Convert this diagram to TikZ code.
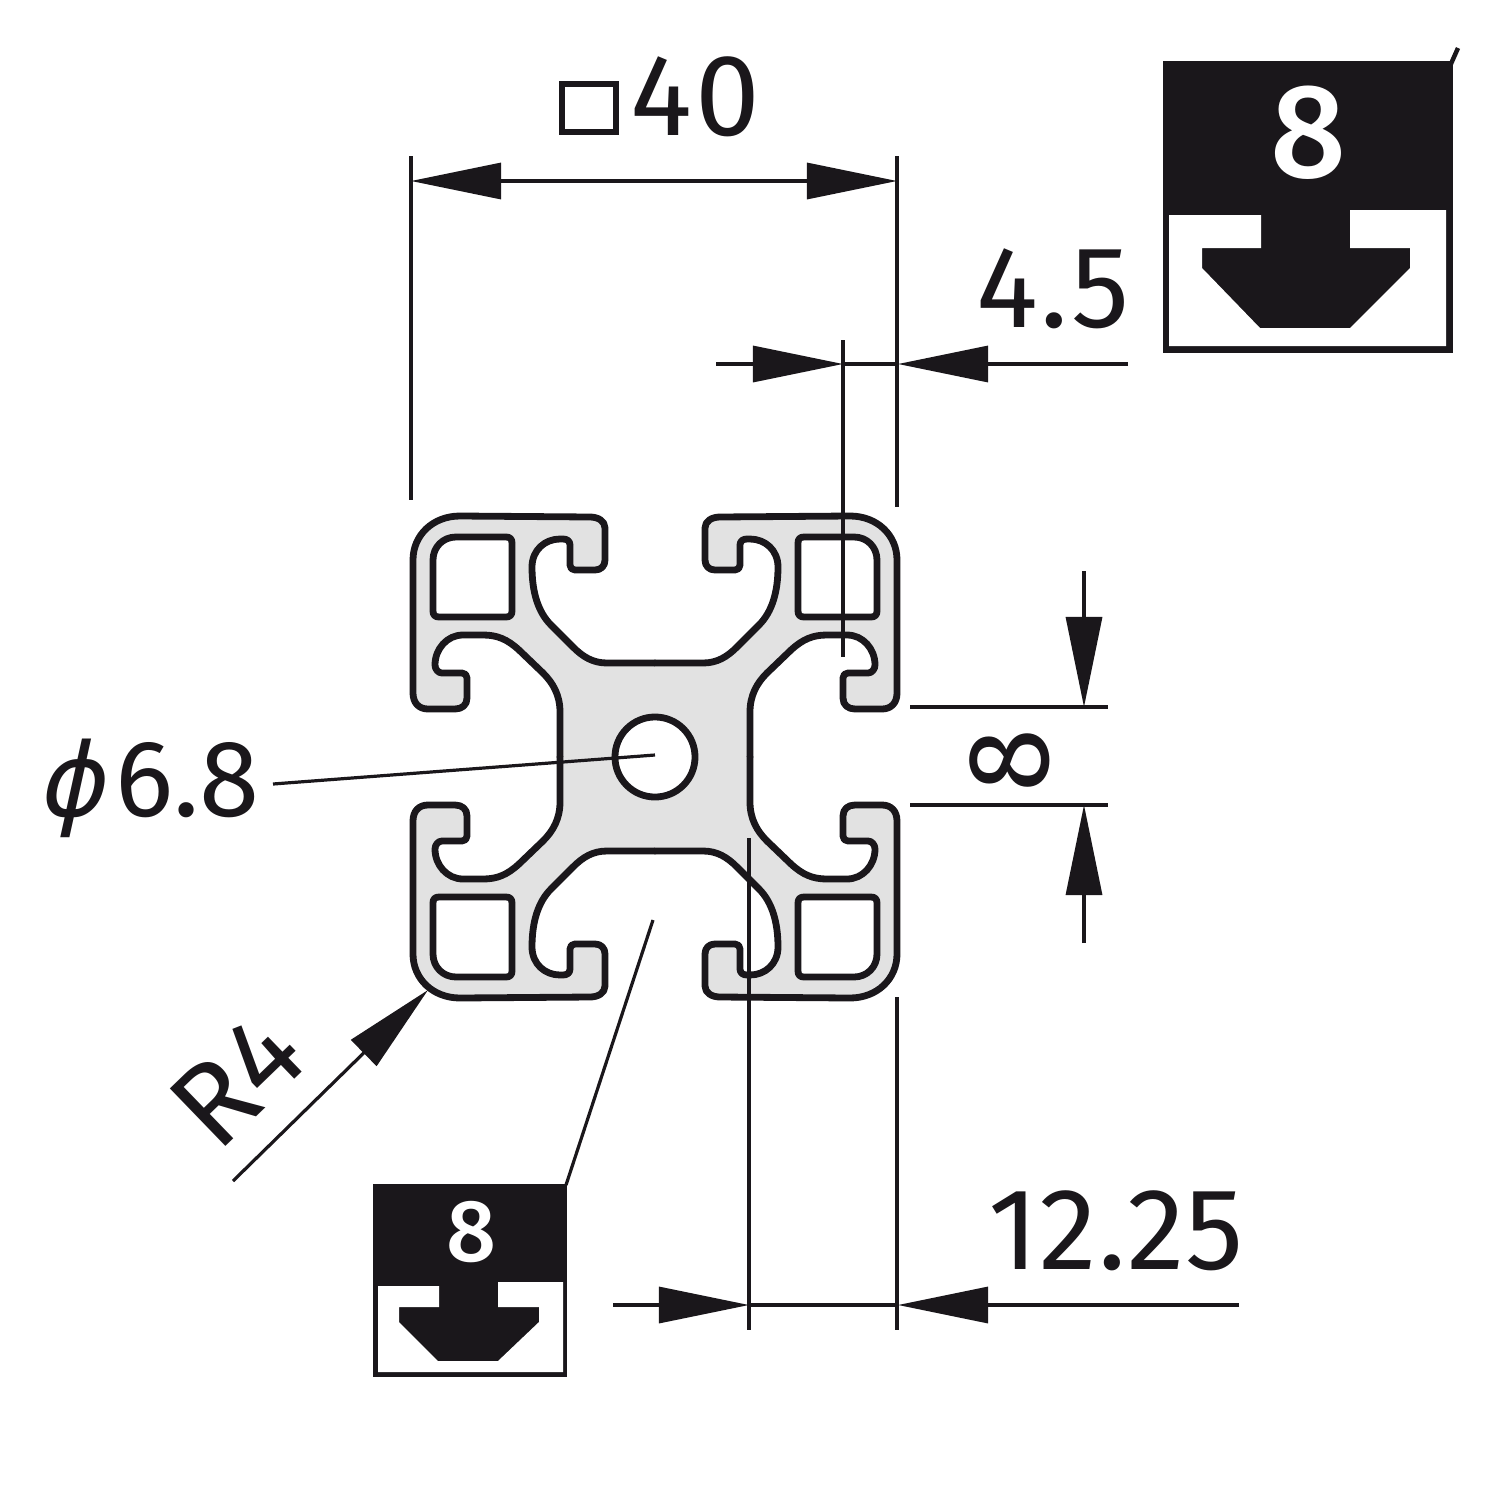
\documentclass[tikz,border=0pt]{standalone}
\usepackage{fontspec}
\setmainfont{Fira Sans}
\newfontfamily\boldlabel{Fira Sans Medium}
\newfontfamily\symb[FakeSlant=0.22]{DejaVu Sans}
\usetikzlibrary{arrows.meta}
\definecolor{ink}{HTML}{1A171B}
\definecolor{alu}{HTML}{E2E2E2}
\newcommand{\lbl}[1]{\fontsize{#1}{#1}\selectfont}
\tikzset{
  x=0.01cm,y=-0.01cm,
  dimline/.style={line width=0.032cm,draw=ink},
  tipped/.style={dimline,-{Triangle[length=0.9cm,width=0.36cm,fill=ink]}},
  tippedboth/.style={dimline,{Triangle[length=0.9cm,width=0.36cm,fill=ink]}-{Triangle[length=0.9cm,width=0.36cm,fill=ink]}},
  outline/.style={line width=0.068cm,draw=ink,line cap=round,line join=round},
  dimtext/.style={inner sep=0,text=ink},
}
\newcommand{\quadcurve}{
  (0,-94) -- (-48,-94)
  .. controls (-62,-94) and (-72,-100) .. (-82,-110)
  -- (-104,-132)
  .. controls (-117,-145) and (-123,-165) .. (-123,-190)
  .. controls (-123,-207) and (-110,-218) .. (-95,-218)
  -- (-92,-218)
  .. controls (-88,-218) and (-85,-216) .. (-85,-212)
  -- (-85,-192)
  .. controls (-85,-189) and (-83,-187) .. (-80,-187)
  -- (-60,-187)
  .. controls (-54,-187) and (-50,-191) .. (-50,-197)
  -- (-50,-229)
  .. controls (-50,-236) and (-57,-240) .. (-65,-240)
  -- (-195,-241)
  .. controls (-222,-241) and (-242,-222) .. (-242,-197)
  -- (-242,-64)
  .. controls (-242,-54) and (-236,-48) .. (-227,-48)
  -- (-200,-48)
  .. controls (-193,-48) and (-188,-52) .. (-188,-59)
  -- (-188,-79)
  .. controls (-188,-82) and (-190,-84) .. (-193,-84)
  -- (-213,-84)
  .. controls (-217,-84) and (-220,-88) .. (-220,-92)
  .. controls (-220,-108) and (-208,-122) .. (-192,-122)
  -- (-172,-122)
  .. controls (-158,-122) and (-148,-118) .. (-136,-107)
  -- (-112,-84)
  .. controls (-102,-74) and (-95,-62) .. (-95,-45)
  -- (-95,0)
}
\newcommand{\quadrant}[2]{
  \begin{scope}[shift={(655,757)},xscale=#1,yscale=#2]
    \fill[alu] \quadcurve -- (0,0) -- cycle;
    \draw[outline] \quadcurve;
    \draw[outline,fill=white] (-199,-220) -- (-149,-220)
      .. controls (-145,-220) and (-143,-218) .. (-143,-214) -- (-143,-146)
      .. controls (-143,-142) and (-145,-140) .. (-149,-140) -- (-216,-140)
      .. controls (-220,-140) and (-222,-142) .. (-222,-146) -- (-222,-197)
      .. controls (-222,-210) and (-212,-220) .. (-199,-220) -- cycle;
  \end{scope}
}
\begin{document}
\begin{tikzpicture}
\useasboundingbox (0,0) rectangle (1512,1512);
\fill[white] (0,0) rectangle (1512,1512);

% profile
\quadrant{1}{1}
\quadrant{-1}{1}
\quadrant{1}{-1}
\quadrant{-1}{-1}
\node[circle,draw=ink,fill=white,line width=0.068cm,minimum size=0.8cm,inner sep=0] (bore) at (655,757) {};

% coordinates
\coordinate (ext40La) at (411,156); \coordinate (ext40Lb) at (411,500);
\coordinate (ext40Ra) at (897,156); \coordinate (ext40Rb) at (897,507);
\coordinate (d40L) at (411,181); \coordinate (d40R) at (897,181);
\coordinate (d45a) at (716,364); \coordinate (d45tipL) at (843,364);
\coordinate (d45b) at (1128,364); \coordinate (d45tipR) at (898,364);
\coordinate (ext45a) at (843,340); \coordinate (ext45b) at (843,657);
\coordinate (e8a) at (910,707); \coordinate (e8ae) at (1108,707);
\coordinate (e8b) at (910,805); \coordinate (e8be) at (1108,805);
\coordinate (d8a) at (1084,571); \coordinate (d8tipa) at (1084,707);
\coordinate (d8b) at (1084,943); \coordinate (d8tipb) at (1084,805);
\coordinate (phiL) at (273,784); \coordinate (phiC) at (655,755);
\coordinate (r4a) at (233,1181); \coordinate (r4b) at (428,990);
\coordinate (d12a) at (613,1305); \coordinate (d12tipL) at (749,1305);
\coordinate (d12b) at (1239,1305); \coordinate (d12tipR) at (898,1305);
\coordinate (ext12a) at (749,838); \coordinate (ext12b) at (749,1330);
\coordinate (ext12c) at (897,997); \coordinate (ext12d) at (897,1330);
\coordinate (slotpt) at (653,920); \coordinate (boxpt) at (566,1185);
\coordinate (tick1a) at (1450,66); \coordinate (tick1b) at (1458,48);

% dimension lines
\draw[dimline] (ext40La) -- (ext40Lb);
\draw[dimline] (ext40Ra) -- (ext40Rb);
\draw[tippedboth] (d40L) -- (d40R);
\draw[tipped] (d45a) -- (d45tipL);
\draw[tipped] (d45b) -- (d45tipR);
\draw[dimline] (d45tipL) -- (d45tipR);
\draw[dimline] (ext45a) -- (ext45b);
\draw[dimline] (e8a) -- (e8ae);
\draw[dimline] (e8b) -- (e8be);
\draw[tipped] (d8a) -- (d8tipa);
\draw[tipped] (d8b) -- (d8tipb);
\draw[dimline] (phiL) -- (phiC);
\draw[tipped] (r4a) -- (r4b);
\draw[tipped] (d12a) -- (d12tipL);
\draw[tipped] (d12b) -- (d12tipR);
\draw[dimline] (d12tipL) -- (d12tipR);
\draw[dimline] (ext12a) -- (ext12b);
\draw[dimline] (ext12c) -- (ext12d);
\draw[dimline] (slotpt) -- (boxpt);
\draw[line width=0.045cm,draw=ink] (tick1a) -- (tick1b);

% slot symbols
\fill[ink] (1163,61) rectangle (1453,353);
\fill[white] (1169,215) -- (1261,215) -- (1261,248) -- (1202,248) -- (1202,268) -- (1260,328) -- (1350,328) -- (1410,268) -- (1410,248) -- (1350,248) -- (1350,210) -- (1446,210) -- (1446,346) -- (1169,346) -- cycle;
\node[inner sep=0,text=white] (n8big) at (1308,133) {\lbl{38}\boldlabel 8};

\fill[ink] (373,1184) rectangle (567,1377);
\fill[white] (378,1286) -- (439,1286) -- (439,1307) -- (399,1307) -- (399,1322) -- (438,1361) -- (498,1361) -- (539,1322) -- (539,1307) -- (498,1307) -- (498,1282) -- (563,1282) -- (563,1372) -- (378,1372) -- cycle;
\node[inner sep=0,text=white] (n8small) at (471,1232) {\lbl{25}\boldlabel 8};

% labels
\node[draw=ink,line width=0.06cm,minimum width=0.53cm,minimum height=0.48cm,inner sep=0] (sq) at (589,108) {};
\node[dimtext] (t40) at (695,97) {\lbl{33}\addfontfeature{LetterSpace=3}40};
\node[dimtext] (t45) at (1053,289) {\lbl{33}\addfontfeature{LetterSpace=2}4.5};
\node[dimtext,rotate=90] (t8) at (1010,761) {\lbl{33}8};
\node[dimtext,anchor=east] (tphi) at (260,788) {{\lbl{29}\symb ϕ}\hspace{0.12cm}\lbl{31}6.8};
\node[dimtext,rotate=44] (tr4) at (237,1080) {\lbl{33}\addfontfeature{LetterSpace=2}R4};
\node[dimtext] (t12) at (1116,1231) {\lbl{33}\addfontfeature{LetterSpace=1}12.25};
\end{tikzpicture}
\end{document}
